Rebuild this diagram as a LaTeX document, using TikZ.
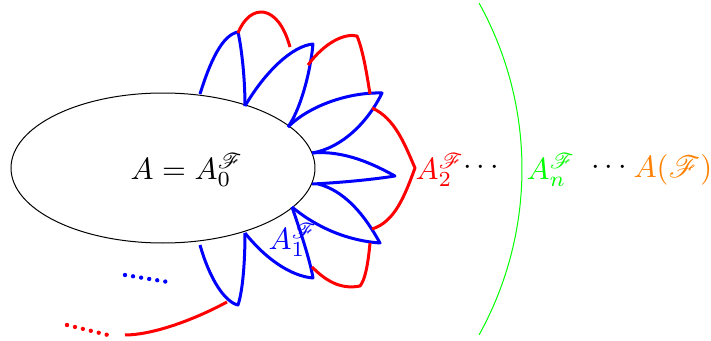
\documentclass[tikz,border=0pt]{standalone}
\usepackage{mathrsfs}
\definecolor{myorange}{rgb}{1,0.5,0}
\definecolor{mygreen}{rgb}{0,1,0}
\begin{document}
\begin{tikzpicture}[x=0.3pt,y=-0.3pt,
  petal/.style={blue,line width=0.9pt,line join=round},
  rim/.style={red,line width=0.9pt,line join=round},
  dotline/.style={line width=1.3pt,dash pattern=on 0pt off 2.45pt,line cap=round},
  lbl/.style={scale=0.92,inner sep=0pt}]
\useasboundingbox (0,0) rectangle (711,341);
% core ellipse
\draw[line width=0.3pt] (163,168) ellipse [x radius=152, y radius=75];
\node[lbl] (a0) at (187,170) {$A=A_0^{\mathscr{F}}$};
% blue petals
\draw[petal] (200,94) .. controls (210,62) and (222,35) .. (238,32)
  .. controls (242,50) and (245,80) .. (245,106);
\draw[petal] (245,106) .. controls (265,72) and (292,46) .. (313,44)
  .. controls (310,75) and (300,110) .. (288,127);
\draw[petal] (288,127) .. controls (310,105) and (350,92) .. (382,93)
  .. controls (368,122) and (342,148) .. (312,153);
\draw[petal] (312,153) .. controls (345,150) and (375,165) .. (395,176)
  .. controls (370,180) and (335,183) .. (312,184);
\draw[petal] (318,184) .. controls (350,192) and (370,225) .. (380,243)
  .. controls (340,240) and (310,222) .. (292,207);
\draw[petal] (292,207) .. controls (300,230) and (310,260) .. (313,278)
  .. controls (290,276) and (265,258) .. (245,233);
\draw[petal] (200,245) .. controls (210,280) and (225,302) .. (238,305)
  .. controls (243,290) and (245,260) .. (245,233);
% red rim
\draw[rim] (238,33) .. controls (250,3) and (278,3) .. (290,47);
\draw[rim] (308,65) .. controls (325,42) and (345,33) .. (357,36)
  .. controls (363,50) and (367,75) .. (370,94);
\draw[rim] (372,108) .. controls (395,118) and (405,145) .. (415,168)
  .. controls (405,195) and (395,222) .. (372,229);
\draw[rim] (370,243) .. controls (368,265) and (365,280) .. (360,286)
  .. controls (340,290) and (325,280) .. (312,267);
\draw[rim] (227,302) .. controls (190,322) and (150,335) .. (125,335);
% dotted continuations
\draw[dotline,red] (67,325) -- (108,335);
\draw[dotline,blue] (125,275) -- (168,282);
% green arc
\draw[mygreen,line width=0.3pt] (180,169) ++(-29:342) arc[start angle=-29, end angle=29, radius=342];
% labels
\node[lbl,blue] (a1) at (293,240) {$A_1^{\mathscr{F}}$};
\node[lbl,red] (a2) at (440,170) {$A_2^{\mathscr{F}}$};
\node[lbl] (d1) at (481,168) {$\cdots$};
\node[lbl,mygreen] (an) at (551,170) {$A_n^{\mathscr{F}}$};
\node[lbl] (d2) at (609,168) {$\cdots$};
\node[lbl,myorange] (af) at (673,170) {$A(\mathscr{F})$};
\end{tikzpicture}
\end{document}
